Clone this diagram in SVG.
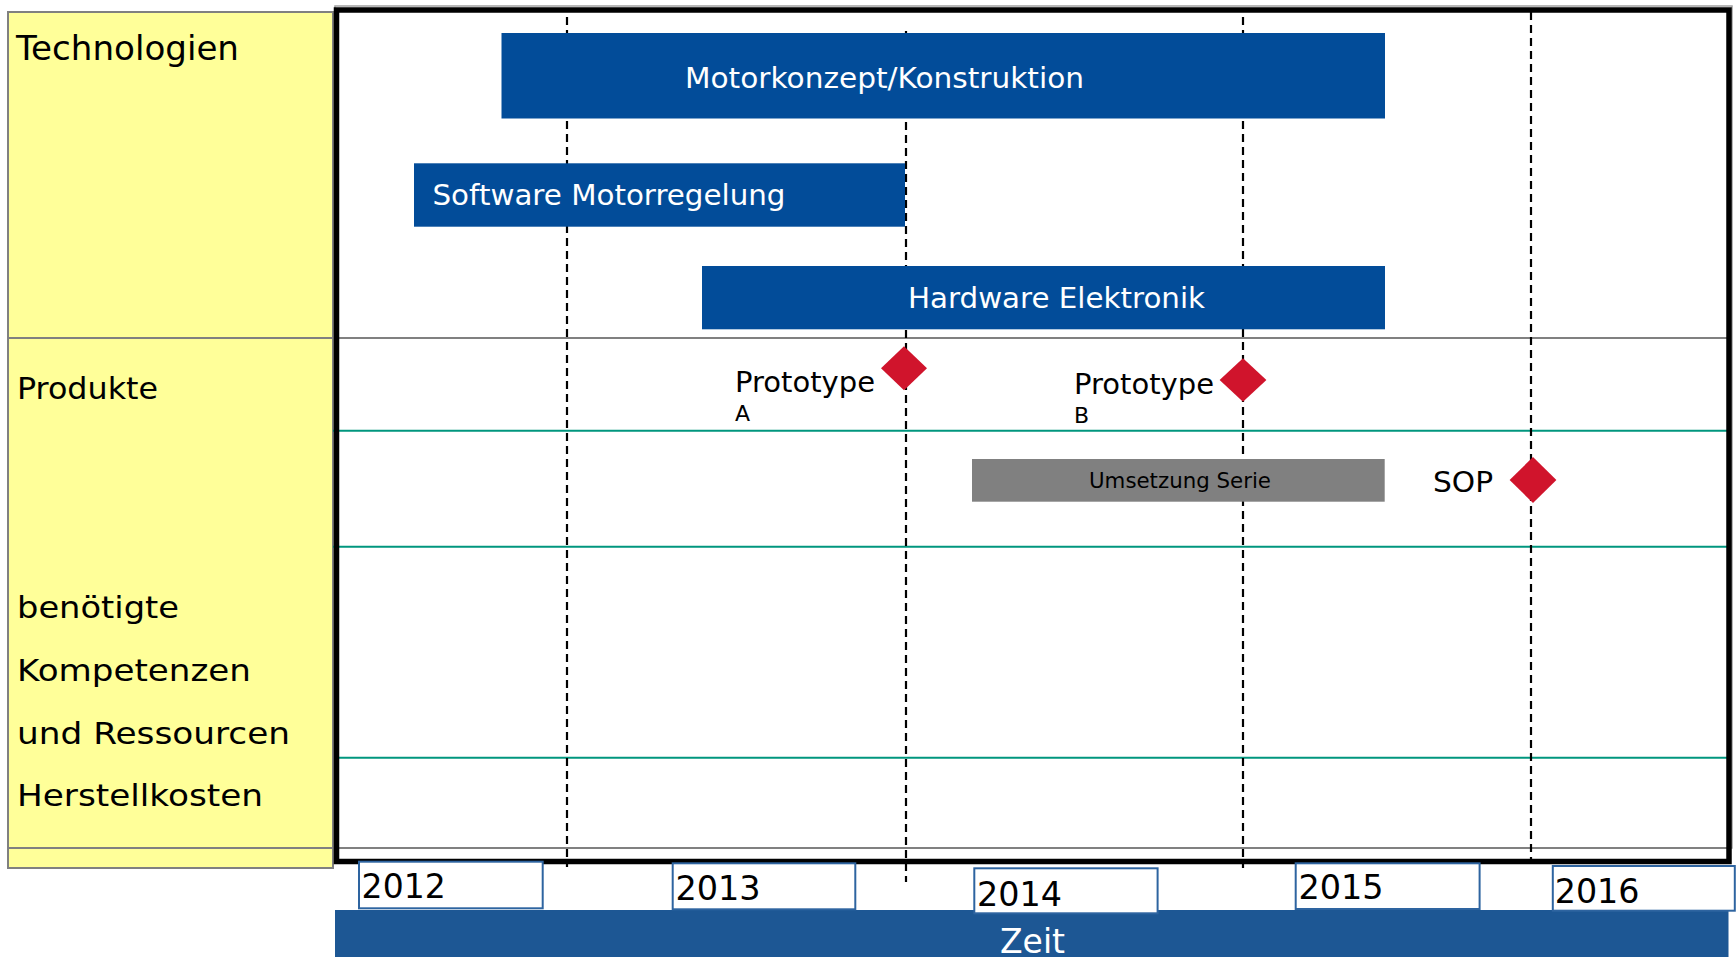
<svg xmlns="http://www.w3.org/2000/svg" width="1736" height="957" viewBox="0 0 1736 957">
<style>
  text { font-family: "DejaVu Sans", Verdana, sans-serif; }
  .lbl { font-size: 31px; fill: #000; }
  .bar { fill: #024C99; }
  .bartxt { font-size: 28px; fill: #FFFFFF; }
  .ms { fill: #D0142C; }
  .mstxt { font-size: 28px; fill: #000; }
  .sub { font-size: 22px; fill: #000; }
  .dash { stroke: #000; stroke-width: 2.2; stroke-dasharray: 8 5; fill: none; }
  .teal { stroke: #00967E; stroke-width: 2; }
  .grayln { stroke: #808080; stroke-width: 2; }
  .yr { fill: #FFFFFF; stroke: #2E64A0; stroke-width: 2; }
  .yrtxt { font-size: 34px; fill: #000; }
</style>
<rect x="0" y="0" width="1736" height="957" fill="#FFFFFF"/>

<g id="legend-panel">
  <rect x="8" y="12" width="325" height="856" fill="#FFFF99" stroke="#808080" stroke-width="2"/>
  <text class="lbl" x="16" y="60" textLength="223" lengthAdjust="spacingAndGlyphs" style="font-size:33px">Technologien</text>
  <text class="lbl" x="17" y="399" textLength="141" lengthAdjust="spacingAndGlyphs">Produkte</text>
  <text class="lbl" x="17" y="617.5" textLength="162" lengthAdjust="spacingAndGlyphs">benötigte</text>
  <text class="lbl" x="17" y="680.5" textLength="234" lengthAdjust="spacingAndGlyphs">Kompetenzen</text>
  <text class="lbl" x="17" y="744" textLength="273" lengthAdjust="spacingAndGlyphs">und Ressourcen</text>
  <text class="lbl" x="17" y="805.5" textLength="246" lengthAdjust="spacingAndGlyphs">Herstellkosten</text>
</g>

<g id="grid">
  <rect x="335" y="6" width="1397" height="842" fill="none" stroke="#A0A0A0" stroke-width="1.5"/>
  <line class="grayln" x1="8" y1="338" x2="1727" y2="338"/>
  <line class="grayln" x1="8" y1="848" x2="1727" y2="848"/>
  <line class="teal" x1="333" y1="430.7" x2="1727" y2="430.7"/>
  <line class="teal" x1="333" y1="546.7" x2="1727" y2="546.7"/>
  <line class="teal" x1="337" y1="757.7" x2="1727" y2="757.7"/>
  <rect x="336.5" y="10" width="1392.5" height="851.5" fill="none" stroke="#000" stroke-width="5.5"/>
  <line class="dash" x1="567" y1="17" x2="567" y2="867"/>
  <line class="dash" x1="906" y1="31" x2="906" y2="882"/>
  <line class="dash" x1="1243" y1="17" x2="1243" y2="868"/>
  <line class="dash" x1="1531" y1="12" x2="1531" y2="859"/>
</g>

<g id="bar-motorkonzept">
  <rect class="bar" x="501.5" y="33" width="883.5" height="85.5"/>
  <text class="bartxt" x="685" y="87.5" textLength="399" lengthAdjust="spacingAndGlyphs">Motorkonzept/Konstruktion</text>
</g>
<g id="bar-software">
  <rect class="bar" x="414" y="163.3" width="491" height="63.4"/>
  <text class="bartxt" x="432.5" y="205" textLength="353" lengthAdjust="spacingAndGlyphs">Software Motorregelung</text>
</g>
<g id="bar-hardware">
  <rect class="bar" x="702" y="266" width="683" height="63.3"/>
  <text class="bartxt" x="908" y="308" textLength="297" lengthAdjust="spacingAndGlyphs">Hardware Elektronik</text>
</g>

<g id="milestone-prototype-a">
  <polygon class="ms" points="904,346.3 927,368.3 904,390.3 881,368.3"/>
  <text class="mstxt" x="735" y="391.7" textLength="140" lengthAdjust="spacingAndGlyphs">Prototype</text>
  <text class="sub" x="735" y="421">A</text>
</g>
<g id="milestone-prototype-b">
  <polygon class="ms" points="1243,358.3 1266.4,380 1243,401.7 1219.6,380"/>
  <text class="mstxt" x="1074" y="394" textLength="140" lengthAdjust="spacingAndGlyphs">Prototype</text>
  <text class="sub" x="1074" y="423.3">B</text>
</g>

<g id="bar-umsetzung">
  <rect x="972" y="459" width="412.7" height="42.7" fill="#808080"/>
  <text x="1089" y="488" style="font-size:21px" fill="#000" textLength="182" lengthAdjust="spacingAndGlyphs">Umsetzung Serie</text>
</g>

<g id="milestone-sop">
  <polygon class="ms" points="1533,457 1556.4,480 1533,503 1509.6,480"/>
  <text class="mstxt" x="1433" y="492.3" textLength="60" lengthAdjust="spacingAndGlyphs">SOP</text>
</g>

<g id="axis-zeit">
  <rect x="335" y="910" width="1393.5" height="50" fill="#1D5794"/>
  <text x="1000" y="953" style="font-size:33px" fill="#FFFFFF" textLength="65" lengthAdjust="spacingAndGlyphs">Zeit</text>
</g>

<g id="year-2012">
  <rect class="yr" x="359" y="861.7" width="183.7" height="46.6"/>
  <text class="yrtxt" x="361.6" y="898.3" textLength="84.2" lengthAdjust="spacingAndGlyphs">2012</text>
</g>
<g id="year-2013">
  <rect class="yr" x="672.7" y="863.3" width="182.6" height="46"/>
  <text class="yrtxt" x="675.4" y="900" textLength="85.3" lengthAdjust="spacingAndGlyphs">2013</text>
</g>
<g id="year-2014">
  <rect class="yr" x="974.3" y="868.3" width="183.3" height="45"/>
  <text class="yrtxt" x="977" y="906" textLength="85" lengthAdjust="spacingAndGlyphs">2014</text>
</g>
<g id="year-2015">
  <rect class="yr" x="1295.7" y="863.3" width="183.9" height="45.7"/>
  <text class="yrtxt" x="1298.4" y="899" textLength="85.2" lengthAdjust="spacingAndGlyphs">2015</text>
</g>
<g id="year-2016">
  <rect class="yr" x="1552.8" y="866" width="182" height="44.7"/>
  <text class="yrtxt" x="1554.7" y="902.7" textLength="84.8" lengthAdjust="spacingAndGlyphs">2016</text>
</g>
</svg>
